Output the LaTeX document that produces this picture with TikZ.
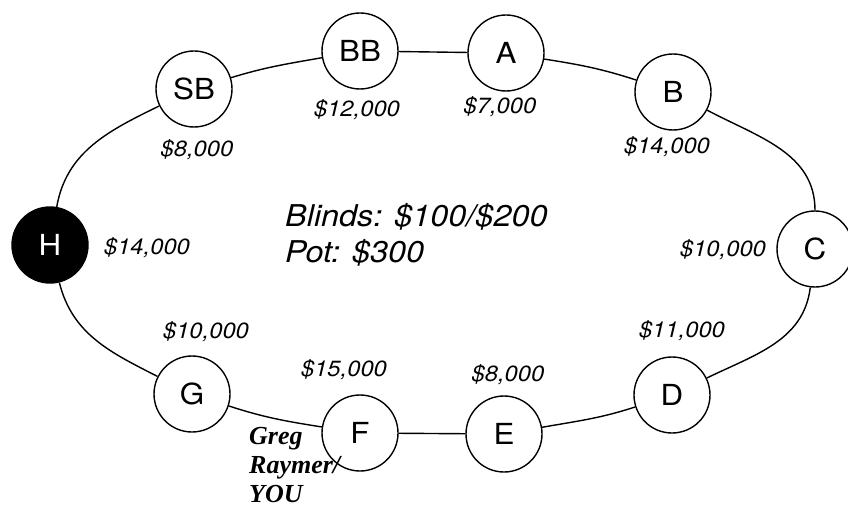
\documentclass[tikz,border=0pt]{standalone}
\usepackage{fontspec}
\setmainfont{TeX Gyre Heros}[FakeStretch=1.08]
\newfontfamily\gregfont{Liberation Serif}
\begin{document}
\begin{tikzpicture}[x=1pt,y=1pt,
  seat/.style={circle,draw,line width=1.4pt,minimum size=76pt,inner sep=0pt,fill=white,
    font=\fontsize{29}{29}\selectfont},
  hero/.style={seat,fill=black,text=white},
  stack/.style={anchor=base,inner sep=0pt,font=\fontsize{22}{22}\selectfont\itshape},
  info/.style={anchor=base west,inner sep=0pt,font=\fontsize{30}{30}\selectfont\itshape},
  rail/.style={line width=1.4pt}]
\useasboundingbox (0,0) rectangle (848,507);
% seats
\node[hero] (H)  at (50,262)  {H};
\node[seat] (SB) at (194,418) {SB};
\node[seat] (BB) at (360,456) {BB};
\node[seat] (A)  at (506,454) {A};
\node[seat] (B)  at (673,415) {B};
\node[seat] (C)  at (815,258) {C};
\node[seat] (D)  at (672,112) {D};
\node[seat] (E)  at (504,73)  {E};
\node[seat] (F)  at (360,74)  {F};
\node[seat] (G)  at (192,113) {G};
% table rail
\draw[rail] (H)  to[out=80,in=206]  (SB);
\draw[rail] (SB) to[out=17,in=190]  (BB);
\draw[rail] (BB) -- (A);
\draw[rail] (A)  to[out=-9,in=162]  (B);
\draw[rail] (B)  to[out=-28,in=90]  (C);
\draw[rail] (C)  to[out=-97,in=26]  (D);
\draw[rail] (D)  to[out=198,in=10]  (E);
\draw[rail] (E)  -- (F);
\draw[rail] (F)  to[out=171,in=-18] (G);
\draw[rail] (G)  to[out=153,in=284] (H);
% stacks
\node[stack] (mSB) at (197,351) {\$8,000};
\node[stack] (mBB) at (357,390) {\$12,000};
\node[stack] (mA)  at (500,393) {\$7,000};
\node[stack] (mB)  at (667,353) {\$14,000};
\node[stack] (mH)  at (147,253) {\$14,000};
\node[stack] (mC)  at (723,251) {\$10,000};
\node[stack] (mD)  at (682,170) {\$11,000};
\node[stack] (mG)  at (206,169) {\$10,000};
\node[stack] (mF)  at (344,131) {\$15,000};
\node[stack] (mE)  at (508,126) {\$8,000};
% centre text
\node[info] (blinds) at (285,281) {Blinds: \$100/\$200};
\node[info] (pot)    at (285,245) {Pot: \$300};
% hero label
\node[anchor=base west,inner sep=0pt,align=left,text depth=0pt,
  font=\gregfont\bfseries\itshape\fontsize{26}{29}\selectfont] (you) at (249,5) {Greg\\Raymer/\\YOU};
\end{tikzpicture}
\end{document}
